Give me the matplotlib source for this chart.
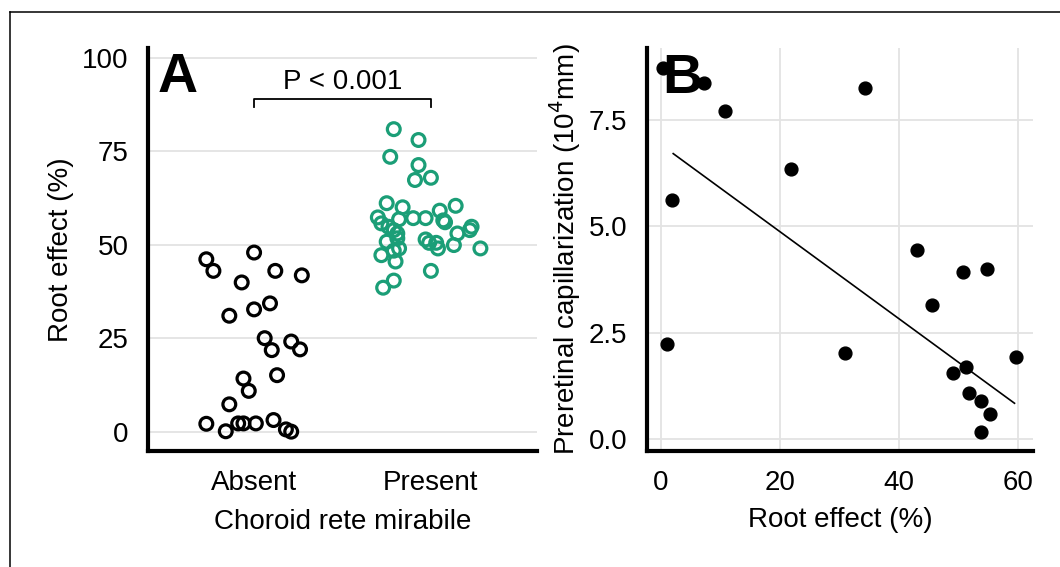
import numpy as np
import matplotlib
matplotlib.use("Agg")
import matplotlib.pyplot as plt
from matplotlib.lines import Line2D

plt.rcParams['font.family'] = ['Liberation Sans', 'DejaVu Sans']

# panel A: root effect (%) by presence of choroid rete mirabile (jittered x)
groups = ['Absent', 'Present']
absent_x = [0.73, 0.77, 1.00, 1.12, 1.27, 0.93, 1.09, 1.00, 0.86, 1.06, 1.21, 1.10, 1.26,
            0.94, 1.13, 0.97, 0.86, 0.73, 0.84, 0.91, 0.94, 1.01, 1.11, 1.18, 1.21]
absent_y = [46.1, 43.0, 47.9, 43.0, 41.8, 39.9, 34.3, 32.7, 31.0, 25.0, 24.1, 21.8, 22.0,
            14.2, 15.1, 10.9, 7.3, 2.1, 0.1, 2.2, 2.2, 2.2, 3.1, 0.6, 0.0]
present_x = [1.79, 1.93, 1.77, 1.93, 1.91, 2.00, 1.75, 1.84, 2.14, 2.05, 1.70, 1.82, 1.90,
             1.97, 2.07, 2.08, 1.72, 1.76, 1.79, 1.81, 2.23, 2.22, 2.15, 1.75, 1.81, 1.97,
             1.99, 2.03, 2.04, 2.13, 2.28, 1.82, 1.79, 1.72, 1.80, 2.00, 1.79, 1.73]
present_y = [80.9, 78.0, 73.5, 71.3, 67.3, 67.9, 61.1, 60.0, 60.4, 59.1, 57.3, 56.8, 57.1,
             57.1, 56.5, 56.0, 55.7, 54.8, 53.9, 53.0, 54.8, 53.9, 53.0, 50.8, 51.7, 51.4,
             50.5, 50.5, 49.0, 49.9, 49.0, 49.0, 48.4, 47.2, 45.5, 43.0, 40.4, 38.5]

# panel B: preretinal capillarization vs root effect
root_effect = [0.44, 7.3, 34.3, 10.8, 21.8, 1.9, 43.0, 50.7, 54.7, 45.5, 1.1, 30.9, 59.6,
               51.2, 49.0, 51.8, 53.7, 55.3, 53.7]
capillarization = [8.71, 8.36, 8.24, 7.71, 6.34, 5.62, 4.44, 3.93, 3.99, 3.15, 2.24, 2.03, 1.94,
                   1.69, 1.55, 1.09, 0.90, 0.59, 0.18]
fit_x = [2.1, 59.4]
fit_y = [6.71, 0.845]

green = '#1b9e77'
grid_c = '#e3e3e3'
fs = 20

fig = plt.figure(figsize=(10.6, 5.67), dpi=100)

# --- panel A
axA = fig.add_axes([0.1396, 0.2051, 0.367, 0.7102])
axA.scatter(absent_x, absent_y, s=85, facecolors='none', edgecolors='black', linewidths=2.3, zorder=3)
axA.scatter(present_x, present_y, s=85, facecolors='none', edgecolors=green, linewidths=2.3, zorder=3)
axA.set_xlim(0.4, 2.6)
axA.set_ylim(-5.1, 102.6)
axA.set_xticks([1, 2])
axA.set_xticklabels(groups)
axA.set_yticks([0, 25, 50, 75, 100])
axA.grid(axis='y', color=grid_c, linewidth=1.3, zorder=0)
axA.set_axisbelow(True)
axA.set_ylabel('Root effect (%)', fontsize=fs, labelpad=6)
axA.set_xlabel('Choroid rete mirabile', fontsize=fs, labelpad=9)
# significance bracket
axA.plot([1.0, 1.0, 2.0, 2.0], [86.7, 89.0, 89.0, 86.7], color='black', linewidth=1.3)
axA.text(1.5, 90.0, 'P < 0.001', ha='center', va='bottom', fontsize=fs)
axA.text(0.025, 0.99, 'A', transform=axA.transAxes, ha='left', va='top',
         fontsize=40, fontweight='bold', zorder=5)

# --- panel B
axB = fig.add_axes([0.6101, 0.2051, 0.3644, 0.7094])
axB.scatter(root_effect, capillarization, s=85, color='black', zorder=3)
axB.plot(fit_x, fit_y, color='black', linewidth=1.2, zorder=2)
axB.set_xlim(-2.35, 62.5)
axB.set_ylim(-0.27, 9.18)
axB.set_xticks([0, 20, 40, 60])
axB.set_yticks([0, 2.5, 5.0, 7.5])
axB.set_yticklabels(['0.0', '2.5', '5.0', '7.5'])
axB.grid(color=grid_c, linewidth=1.3, zorder=0)
axB.set_axisbelow(True)
axB.set_xlabel('Root effect (%)', fontsize=fs, labelpad=8)
axB.set_ylabel('Preretinal capillarization (10$^4$mm)', fontsize=fs, labelpad=4)
axB.text(0.04, 0.99, 'B', transform=axB.transAxes, ha='left', va='top',
         fontsize=40, fontweight='bold', zorder=5)

for ax in (axA, axB):
    for side in ('top', 'right'):
        ax.spines[side].set_visible(False)
    for side in ('left', 'bottom'):
        ax.spines[side].set_linewidth(3.0)
        ax.spines[side].set_capstyle('projecting')
    ax.tick_params(length=0, pad=14, labelsize=fs, colors='black')

# frame of the original figure (only top and left edges are in view)
fig.add_artist(Line2D([0.009, 0.009], [0.0, 0.9797], transform=fig.transFigure, color='black', linewidth=1.1))
fig.add_artist(Line2D([0.009, 1.0], [0.9797, 0.9797], transform=fig.transFigure, color='black', linewidth=1.1))

fig.savefig('out.png', dpi=100)
